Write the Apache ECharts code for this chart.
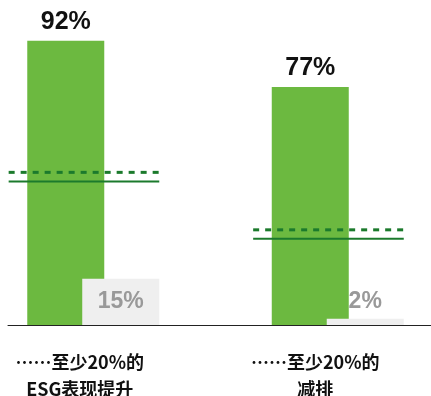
<!DOCTYPE html>
<html><head><meta charset="utf-8">
<script src="https://cdn.jsdelivr.net/npm/echarts@6/dist/echarts.min.js"></script>
<style>html,body{margin:0;padding:0;background:#fff}#c{width:431px;height:396px}</style>
</head><body><div id="c"></div>
<script>
const categories = ['……至少20%的\nESG表现提升', '……至少20%的\n减排'];
const topValues = [92, 77];
const bottomValues = [15, 2];
const dashedValues = [49.4, 30.8];
const solidValues = [46.4, 27.9];

const chart = echarts.init(document.getElementById('c'));
function lineSeries(values, dashed) {
  return {
    type: 'custom', xAxisIndex: 0, yAxisIndex: 0, z: 5,
    data: values.map((v, i) => [i, v]),
    renderItem: function (params, api) {
      const c = api.coord([api.value(0), api.value(1)]);
      const band = api.size([1, 0])[0];
      return {
        type: 'line',
        shape: { x1: c[0] - 0.346 * band, y1: c[1], x2: c[0] + 0.27 * band, y2: c[1] },
        style: { stroke: '#1b7a2c', lineWidth: dashed ? 3 : 2, lineDash: dashed ? [6, 6] : null }
      };
    }
  };
}
chart.setOption({
  animation: false,
  grid: [
    { left: -29, width: 489, top: 16, bottom: 71, outerBoundsMode: 'none', containLabel: false },
    { left: 8, right: 0, top: 16, bottom: 71, outerBoundsMode: 'none', containLabel: false },
    { left: -38, width: 471, top: 16, bottom: 71, outerBoundsMode: 'none', containLabel: false }
  ],
  xAxis: [
    { type: 'category', gridIndex: 0, data: categories, show: false },
    { type: 'category', gridIndex: 1, data: categories,
      axisLine: { show: true, lineStyle: { color: '#222', width: 1 } },
      axisTick: { show: false }, axisLabel: { show: false } },
    { type: 'category', gridIndex: 2, data: categories,
      axisLine: { show: false }, axisTick: { show: false },
      axisLabel: { margin: 24, fontSize: 18, fontWeight: 'bold', color: '#111', lineHeight: 27,
        fontFamily: '"Noto Sans CJK SC", sans-serif' } }
  ],
  yAxis: [
    { type: 'value', gridIndex: 0, min: 0, max: 100, show: false },
    { type: 'value', gridIndex: 1, min: 0, max: 100, show: false },
    { type: 'value', gridIndex: 2, min: 0, max: 100, show: false }
  ],
  series: [
    { type: 'bar', xAxisIndex: 0, yAxisIndex: 0, data: topValues, barWidth: 77, barGap: '-28.6%',
      itemStyle: { color: '#6cb940' },
      label: { show: true, position: 'top', distance: 6, formatter: '{c}%', fontSize: 25, fontWeight: 'bold',
        color: '#111', fontFamily: '"Liberation Sans", Arial, sans-serif' } },
    { type: 'bar', xAxisIndex: 0, yAxisIndex: 0, barWidth: 77,
      data: bottomValues.map((v) => ({ value: v, label: { position: v > 8 ? 'inside' : 'top', distance: 6 } })),
      itemStyle: { color: '#efefef' },
      label: { show: true, formatter: '{c}%', fontSize: 23, fontWeight: 'bold', color: '#999',
        fontFamily: '"Liberation Sans", Arial, sans-serif' } },
    lineSeries(dashedValues, true),
    lineSeries(solidValues, false)
  ]
});
</script></body></html>
